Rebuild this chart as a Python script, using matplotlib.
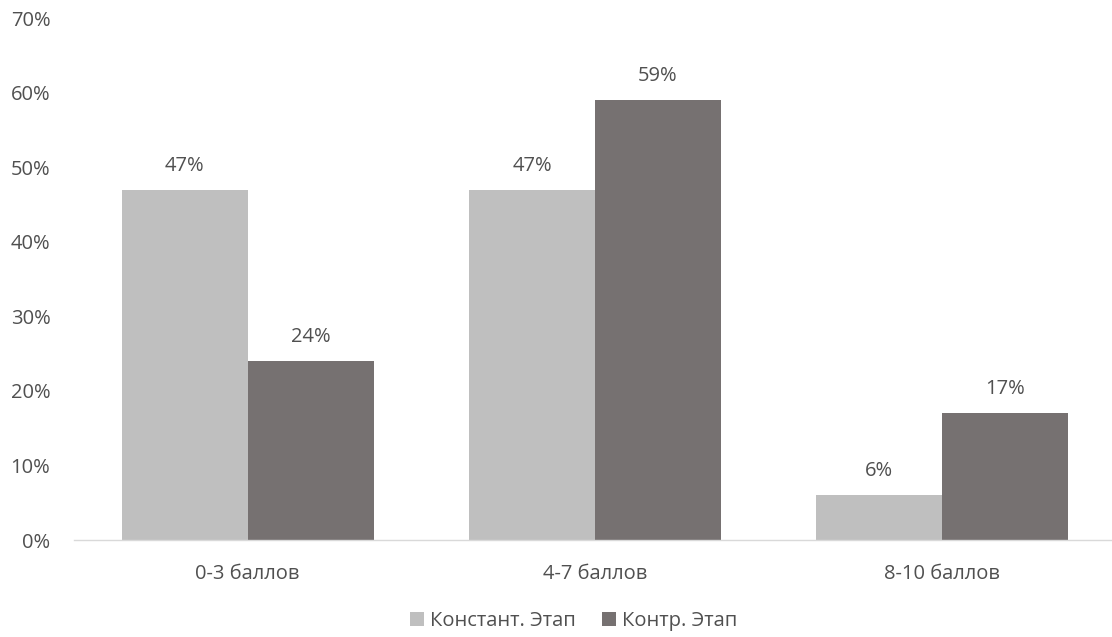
import matplotlib
matplotlib.use("Agg")
import matplotlib.pyplot as plt
import numpy as np
from matplotlib.ticker import FuncFormatter

categories = ["0-3 баллов", "4-7 баллов", "8-10 баллов"]
series_names = ["Констант. Этап", "Контр. Этап"]
konstant = [47, 47, 6]
kontr = [24, 59, 17]
yticks = [0, 10, 20, 30, 40, 50, 60, 70]

plt.rcParams['font.family'] = ['Open Sans', 'DejaVu Sans']
txt = '#505050'
c_light = '#BFBFBF'
c_dark = '#767171'
fs = 14.5

fig = plt.figure(figsize=(11.12, 6.37), dpi=100)
W, H = 1112, 637
left = 74 / W
right_px = 1116
bottom = (H - 540) / H
top = (H - 18) / H
ax = fig.add_axes([left, bottom, (right_px - 74) / W, top - bottom])

x = np.arange(len(categories))
bw = 0.3625
b1 = ax.bar(x - bw / 2, konstant, bw, color=c_light, label=series_names[0])
b2 = ax.bar(x + bw / 2, kontr, bw, color=c_dark, label=series_names[1])

for bars, vals in ((b1, konstant), (b2, kontr)):
    for r, v in zip(bars, vals):
        ax.annotate(f"{v}%", (r.get_x() + r.get_width() / 2, v),
                    xytext=(0, 10), textcoords='offset points',
                    ha='center', va='bottom', fontsize=fs, color=txt)

ax.set_xlim(-0.5, len(categories) - 0.5)
ax.set_ylim(0, 70)
ax.set_yticks(yticks)
ax.yaxis.set_major_formatter(FuncFormatter(lambda v, p: f"{int(v)}%"))
ax.set_xticks(x)
ax.set_xticklabels(categories)
ax.tick_params(axis='both', length=0, labelsize=fs, labelcolor=txt)
ax.tick_params(axis='y', pad=17)
ax.tick_params(axis='x', pad=17)
for s in ['top', 'right', 'left']:
    ax.spines[s].set_visible(False)
ax.spines['bottom'].set_color('#D9D9D9')
ax.spines['bottom'].set_linewidth(1)

fig.legend(handles=[b1, b2], labels=series_names, loc='center',
           bbox_to_anchor=(574 / W, (H - 621) / H), ncol=2, frameon=False,
           fontsize=fs, labelcolor=txt, handlelength=0.7, handleheight=0.7,
           handletextpad=0.3, columnspacing=1.3)

fig.savefig("out.png", dpi=100)
